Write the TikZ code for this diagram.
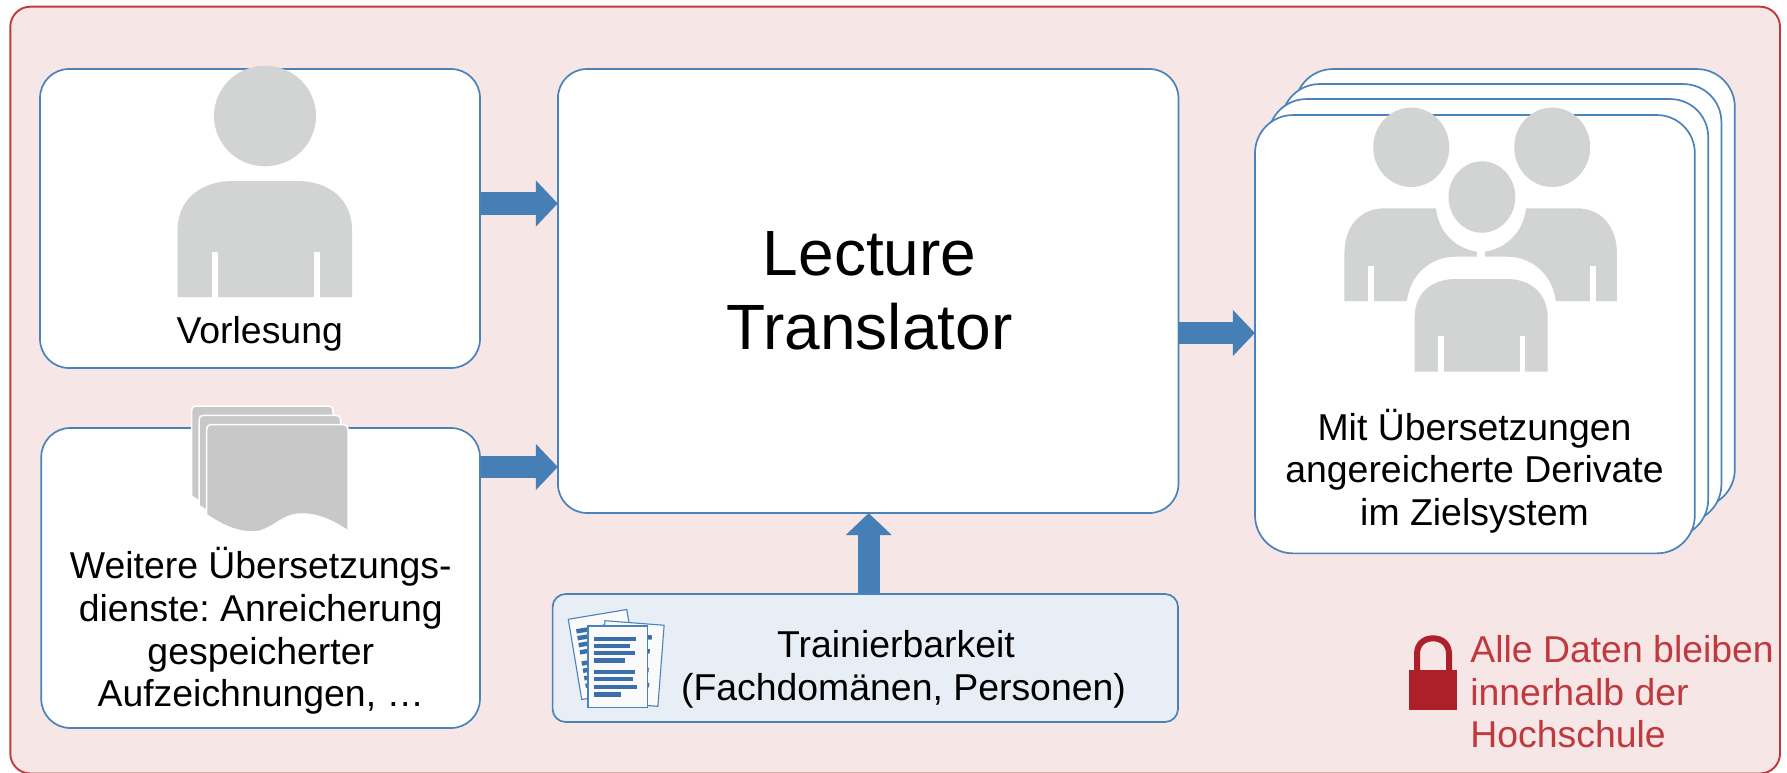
\documentclass[tikz,border=0pt]{standalone}
\usepackage{fontspec}
\setmainfont{Liberation Sans}
\frenchspacing
\usetikzlibrary{arrows.meta}
\definecolor{framered}{HTML}{BF3A3D}
\definecolor{framefill}{HTML}{F6E6E6}
\definecolor{boxblue}{HTML}{4A82BA}
\definecolor{arrowblue}{HTML}{457FB6}
\definecolor{persongray}{HTML}{D2D3D3}
\definecolor{docgray}{HTML}{C8C8C8}
\definecolor{trainfill}{HTML}{E7EEF5}
\definecolor{barblue}{HTML}{3A6FAB}
\definecolor{pagewhite}{HTML}{FAFAFA}
\definecolor{lockred}{HTML}{AE2029}
\definecolor{textred}{HTML}{C0393F}
\tikzset{
  panel/.style={draw=boxblue,line width=1.7pt,fill=white,rectangle,rounded corners=29pt,inner sep=0pt},
  stackbox/.style={panel,rounded corners=38pt,minimum width=439.8pt,minimum height=438.3pt},
  lbl/.style={font=\fontsize{37.4}{42.6}\selectfont,align=center,inner sep=0pt,text=black},
  bigarrow/.style={draw=arrowblue,line width=22.4pt,shorten >=-0.7pt,-{Triangle[length=22pt,width=45pt,fill=arrowblue]}},
  gray person/.style={fill=persongray},
  page/.style={fill=docgray,draw=white,line width=1.5pt},
  paper/.style={fill=pagewhite,draw=boxblue,line width=1.1pt},
  bar/.style={fill=barblue}
}
\newcommand{\pagepath}[1]{\draw[page,shift={(#1)}] (206.7,515) -- (206.7,430) .. controls (206.7,426.5) and (208,424.7) .. (211.5,424.7) -- (343,424.7) .. controls (346.5,424.7) and (348,426.5) .. (348,430) -- (348,531) .. controls (330,519) and (316,514) .. (302,514) .. controls (280,514) and (272,532) .. (252.6,532) .. controls (236,532) and (222,525) .. (206.7,515) -- cycle;}
\newcommand{\paperbars}{%
  \fill[bar] (6,11) rectangle +(42,4.4);
  \fill[bar] (6,18) rectangle +(36.3,4.4);
  \fill[bar] (6,25) rectangle +(41,4.4);
  \fill[bar] (6,32.3) rectangle +(31,4.4);
  \fill[bar] (6,43.7) rectangle +(41.3,4.4);
  \fill[bar] (6,51) rectangle +(39,4.4);
  \fill[bar] (6,58.7) rectangle +(43,4.4);
  \fill[bar] (6,66.3) rectangle +(26.7,4.4);
}
\begin{document}
\begin{tikzpicture}[x=1pt,y=-1pt]
\useasboundingbox (0,0) rectangle (1787,773);
% outer frame
\node[draw=framered,fill=framefill,line width=1.9pt,rectangle,rounded corners=20pt,inner sep=0pt,minimum width=1769.7pt,minimum height=766.8pt] (frame) at (895.15,390.1) {};

% boxes
\node[panel,minimum width=440pt,minimum height=299pt] (vl) at (260,218.5) {};
\node[panel,minimum width=438.7pt,minimum height=300pt] (wd) at (260.6,578) {};
\node[panel,minimum width=620.5pt,minimum height=444pt] (lt) at (868.2,291) {};
\node[panel,fill=trainfill,rounded corners=13pt,minimum width=625.4pt,minimum height=128pt] (tb) at (865.3,658) {};
\node[stackbox] (s4) at (1514.9,288.2) {};
\node[stackbox] (s3) at (1501.5,303.2) {};
\node[stackbox] (s2) at (1488.3,318.2) {};
\node[stackbox] (s1) at (1474.9,334.2) {};

% arrows
\coordinate (a1) at (500,203.5);
\coordinate (a2) at (500,467);
\coordinate (a3) at (1200,333);
\coordinate (a4) at (868.7,550);
\draw[bigarrow] (vl.east |- a1) -- (lt.west |- a1);
\draw[bigarrow] (wd.east |- a2) -- (lt.west |- a2);
\draw[bigarrow] (lt.east |- a3) -- (s1.west |- a3);
\draw[bigarrow] (tb.north -| a4) -- (lt.south -| a4);

% single person
\fill[gray person] (265,116) ellipse [x radius=51pt,y radius=50.3pt];
\fill[gray person] (177.6,297) -- (177.6,230) .. controls (177.6,200) and (200,181) .. (233.4,181) -- (296.6,181) .. controls (330,181) and (352,200) .. (352,230) -- (352,297) -- cycle;
\fill[white] (212.4,252) rectangle (218,297.5);
\fill[white] (314,252) rectangle (320,297.5);

% document stack
\pagepath{-15,-18.7}
\pagepath{-7.5,-9.3}
\pagepath{0,0}

% group of persons
\fill[gray person] (1411.2,147.3) ellipse [x radius=38pt,y radius=39.7pt];
\fill[gray person] (1552.2,147.3) ellipse [x radius=38pt,y radius=39.7pt];
\fill[gray person] (1481.9,197) ellipse [x radius=33.4pt,y radius=35.7pt];
\fill[gray person] (1344.4,301) -- (1344.4,254) .. controls (1344.4,226) and (1360,208.3) .. (1385.2,208.3) -- (1436,208.3) .. controls (1438.2,232) and (1455.5,248.5) .. (1476.9,251.7) -- (1476.9,256.7) -- (1455.6,256.7) .. controls (1430,256.7) and (1410,275) .. (1406.9,301) -- cycle;
\fill[gray person] (1616.9,301) -- (1616.9,254) .. controls (1616.9,226) and (1601,208.3) .. (1576.4,208.3) -- (1525.9,208.3) .. controls (1523.7,232) and (1506,248.5) .. (1485,251.7) -- (1485,256.7) -- (1507,256.7) .. controls (1532.5,256.7) and (1552.5,275) .. (1555.8,301) -- cycle;
\fill[gray person] (1414.7,371.7) -- (1414.7,316.7) .. controls (1414.7,295) and (1430,279) .. (1455.6,279) -- (1507,279) .. controls (1532,279) and (1547.6,295) .. (1547.6,316.7) -- (1547.6,371.7) -- cycle;
\fill[white] (1367.5,266) rectangle (1373.5,301.5);
\fill[white] (1589.9,266) rectangle (1595.9,301.5);
\fill[white] (1438.2,336.3) rectangle (1443.5,372);
\fill[white] (1519.5,336.3) rectangle (1525.2,372);

% paper icon
\begin{scope}[shift={(568.3,619.3)},rotate=9.5]
  \draw[paper] (0,0) rectangle (59.3,81.3);
  \paperbars
\end{scope}
\begin{scope}[shift={(605,620.7)},rotate=-4.4]
  \draw[paper] (0,0) rectangle (59.3,81.3);
  \paperbars
\end{scope}
\begin{scope}[shift={(588,626)}]
  \draw[paper] (0,0) rectangle (59.3,81.3);
  \paperbars
\end{scope}

% lock
\fill[lockred] (1409,669.7) rectangle (1456.6,709.7);
\draw[lockred,line width=6pt] (1417,670) -- (1417,654) .. controls (1417,644) and (1424,638.3) .. (1433,638.3) .. controls (1442,638.3) and (1449,644) .. (1449,654) -- (1449,670);

% labels
\node[lbl] (tvl) at (259.7,333.4) {Vorlesung};
\node[lbl] (twd) at (260.8,631) {Weitere Übersetzungs-\\dienste: Anreicherung\\gespeicherter\\Aufzeichnungen, …};
\node[lbl,font=\fontsize{64}{74}\selectfont] (tlt) at (869.6,290.5) {Lecture\\Translator};
\node[lbl] (ttb) at (903.5,669.5) {Trainierbarkeit\hspace*{15pt}\\(Fachdomänen, Personen)};
\node[lbl] (tst) at (1474.5,471) {Mit Übersetzungen\\angereicherte Derivate\\im Zielsystem};
\node[lbl,text=textred,align=left,anchor=west] (tred) at (1470.1,692) {Alle Daten bleiben\\innerhalb der\\Hochschule};
\end{tikzpicture}
\end{document}
